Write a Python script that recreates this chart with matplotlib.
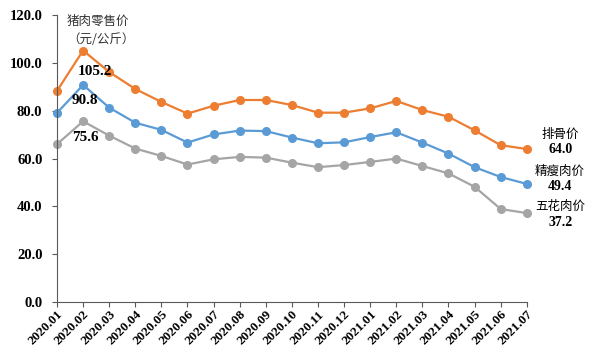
import numpy as np
import matplotlib.pyplot as plt

months = ['2020.01', '2020.02', '2020.03', '2020.04', '2020.05', '2020.06',
          '2020.07', '2020.08', '2020.09', '2020.10', '2020.11', '2020.12',
          '2021.01', '2021.02', '2021.03', '2021.04', '2021.05', '2021.06',
          '2021.07']
# 排骨价
ribs = [88.3, 105.2, 96.2, 89.1, 83.7, 78.8, 82.1, 84.5, 84.5, 82.4, 79.2,
        79.2, 81.0, 84.1, 80.3, 77.5, 71.8, 65.6, 64.0]
# 精瘦肉价
lean = [79.1, 90.8, 81.3, 75.0, 72.0, 66.7, 70.1, 71.7, 71.5, 68.8, 66.4,
        66.8, 69.0, 71.0, 66.7, 62.1, 56.4, 52.3, 49.4]
# 五花肉价
belly = [66.0, 75.6, 69.6, 64.2, 61.1, 57.5, 59.7, 60.7, 60.4, 58.3, 56.4,
         57.3, 58.6, 60.0, 56.9, 53.8, 48.2, 38.9, 37.2]

cjk = ['Noto Sans CJK SC', 'DejaVu Sans']
num_font = dict(family='Liberation Serif', weight='bold')

fig = plt.figure(figsize=(6, 3.6), dpi=100)
ax = fig.add_axes([0.095, 0.161, 0.783, 0.797])
x = np.arange(len(months))

ax.plot(x, ribs, color='#ED7D31', lw=1.6, marker='o', ms=5.5, clip_on=False)
ax.plot(x, lean, color='#5B9BD5', lw=1.6, marker='o', ms=5.5, clip_on=False)
ax.plot(x, belly, color='#A5A5A5', lw=1.6, marker='o', ms=5.5, clip_on=False)

ax.set_xlim(0, len(months) - 1)
ax.set_ylim(0, 120)
yt = np.arange(0, 121, 20)
ax.set_yticks(yt)
ax.set_yticklabels(['%.1f' % v for v in yt], **num_font, fontsize=10.5)
ax.set_xticks(x)
ax.set_xticklabels(months, rotation=45, ha='right', rotation_mode='anchor',
                   **num_font, fontsize=9.5)
ax.tick_params(axis='both', length=3.5, width=0.8, color='#595959')
ax.tick_params(axis='y', pad=7)
ax.tick_params(axis='x', pad=1)
for s in ['top', 'right']:
    ax.spines[s].set_visible(False)
for s in ['left', 'bottom']:
    ax.spines[s].set_color('#595959')
    ax.spines[s].set_linewidth(0.8)

ax.text(0.38, 120, '猪肉零售价\n（元/公斤）', family=cjk, fontsize=9,
        va='top', ha='left', color='#333333', linespacing=1.5)

# peak labels
ax.annotate('%.1f' % ribs[1], (1, ribs[1]), xytext=(8.6, -15), textcoords='offset points',
            ha='center', va='center', **num_font, fontsize=11)
ax.annotate('%.1f' % lean[1], (1, lean[1]), xytext=(1.5, -11.5), textcoords='offset points',
            ha='center', va='center', **num_font, fontsize=11)
ax.annotate('%.1f' % belly[1], (1, belly[1]), xytext=(2, -12), textcoords='offset points',
            ha='center', va='center', **num_font, fontsize=11)

# end labels
end = len(months) - 1
for name, vals, dy_name, dy_val in [('排骨价', ribs, 10.5, 0),
                                     ('精瘦肉价', lean, 9, -2),
                                     ('五花肉价', belly, 4.5, -6.8)]:
    ax.annotate(name, (end, vals[-1]), xytext=(24, dy_name), textcoords='offset points',
                ha='center', va='center', family=cjk, fontsize=9, annotation_clip=False)
    ax.annotate('%.1f' % vals[-1], (end, vals[-1]), xytext=(24, dy_val), textcoords='offset points',
                ha='center', va='center', **num_font, fontsize=10, annotation_clip=False)

fig.savefig('out.png', dpi=100)
